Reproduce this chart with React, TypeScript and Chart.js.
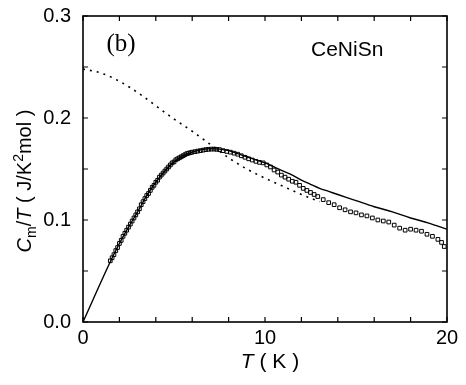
import React, { useEffect, useRef } from "react";
import { Chart, registerables } from "chart.js";

Chart.register(...registerables);

// Measured C_m/T data (open squares)
const pointT = [
  1.5, 1.6, 1.7, 1.8, 1.9, 2.0, 2.1, 2.2, 2.3, 2.4, 2.5, 2.6, 2.7, 2.8, 2.9, 3.0, 3.1, 3.2, 3.3, 3.4,
  3.5, 3.6, 3.7, 3.8, 3.9, 4.0, 4.1, 4.2, 4.3, 4.4, 4.5, 4.6, 4.7, 4.8, 4.9, 5.0, 5.1, 5.2, 5.3, 5.4,
  5.5, 5.6, 5.7, 5.8, 5.9, 6.0, 6.15, 6.3, 6.45, 6.6, 6.75, 6.9, 7.05, 7.2, 7.35, 7.5,
  7.7, 7.9, 8.1, 8.3, 8.5, 8.7, 8.9, 9.1, 9.3, 9.5, 9.7, 9.9, 10.1, 10.3, 10.5, 10.7, 10.9, 11.1, 11.3,
  11.5, 11.7, 11.9, 12.1, 12.3, 12.5, 12.7, 12.9, 13.2, 13.5, 13.8, 14.1, 14.4, 14.7, 15.0, 15.3, 15.6,
  15.9, 16.2, 16.5, 16.8, 17.1, 17.4, 17.7, 18.0, 18.3, 18.6, 18.9, 19.2, 19.5, 19.7, 19.85,
];
const pointC = [
  0.060, 0.063, 0.066, 0.070, 0.073, 0.077, 0.080, 0.084, 0.087, 0.090, 0.093, 0.096, 0.099, 0.102, 0.105, 0.108, 0.111, 0.115, 0.118, 0.121,
  0.124, 0.126, 0.129, 0.132, 0.134, 0.137, 0.139, 0.142, 0.144, 0.146, 0.148, 0.150, 0.152, 0.154, 0.156, 0.157, 0.159, 0.160, 0.161, 0.162,
  0.163, 0.164, 0.165, 0.1655, 0.166, 0.1665, 0.167, 0.1675, 0.168, 0.1685, 0.169, 0.1693, 0.1695, 0.1695, 0.1693, 0.169,
  0.168, 0.1672, 0.1665, 0.1655, 0.1645, 0.163, 0.1615, 0.160, 0.1588, 0.1575, 0.1565, 0.156, 0.154, 0.152, 0.149, 0.147, 0.144, 0.142, 0.140,
  0.138, 0.137, 0.134, 0.131, 0.129, 0.127, 0.125, 0.123, 0.120, 0.117, 0.115, 0.112, 0.110, 0.108, 0.107, 0.105, 0.104,
  0.102, 0.100, 0.099, 0.098, 0.095, 0.092, 0.090, 0.091, 0.090, 0.089, 0.086, 0.084, 0.081, 0.078, 0.074,
];

// Solid calculated curve
const solidT = [0, 1.5, 2.0, 2.5, 3.0, 3.5, 4.0, 4.5, 5.0, 5.5, 6.0, 6.5, 7.0, 7.5, 8.0, 8.5, 9.0, 9.5, 10.0, 10.5, 11.0, 11.5, 12.0, 12.5, 13.0, 13.5, 14.0, 15.0, 16.0, 17.0, 18.0, 19.0, 20.0];
const solidC = [0, 0.059, 0.077, 0.093, 0.108, 0.124, 0.137, 0.148, 0.157, 0.163, 0.1665, 0.169, 0.170, 0.1695, 0.168, 0.165, 0.162, 0.159, 0.156, 0.152, 0.148, 0.144, 0.139, 0.135, 0.131, 0.128, 0.125, 0.119, 0.113, 0.108, 0.102, 0.097, 0.091];

// Dotted curve
const dottedT = [0, 1, 2, 3, 4, 5, 6, 7, 8, 9, 10, 11, 12, 13];
const dottedC = [0.248, 0.244, 0.236, 0.225, 0.212, 0.199, 0.187, 0.174, 0.161, 0.150, 0.141, 0.133, 0.125, 0.118];

const xTickLabels = [0, 10, 20];
const yTickLabels = [0.0, 0.1, 0.2, 0.3];

const W = 466;
const H = 385;

const framePlugin = {
  id: "frame",
  afterDraw(chart: any) {
    const { ctx, chartArea, scales } = chart;
    const { left, right, top, bottom } = chartArea;
    const xs = scales.x;
    const ys = scales.y;
    ctx.save();
    ctx.strokeStyle = "#000";
    ctx.lineWidth = 1.6;
    ctx.strokeRect(left, top, right - left, bottom - top);
    ctx.lineWidth = 1.2;
    const tl = 5;
    for (let v = 0; v <= 20.001; v += 2) {
      const px = xs.getPixelForValue(v);
      ctx.beginPath();
      ctx.moveTo(px, bottom);
      ctx.lineTo(px, bottom - tl);
      ctx.moveTo(px, top);
      ctx.lineTo(px, top + tl);
      ctx.stroke();
    }
    for (let i = 0; i <= 6; i++) {
      const py = ys.getPixelForValue(i * 0.05);
      ctx.beginPath();
      ctx.moveTo(left, py);
      ctx.lineTo(left + tl, py);
      ctx.moveTo(right, py);
      ctx.lineTo(right - tl, py);
      ctx.stroke();
    }
    ctx.fillStyle = "#000";
    // panel label
    ctx.font = "25px 'Liberation Serif'";
    ctx.textAlign = "center";
    ctx.textBaseline = "middle";
    ctx.fillText("(b)", 121, 44);
    // compound name
    ctx.font = "21px 'Liberation Sans'";
    ctx.textAlign = "left";
    ctx.fillText("CeNiSn", 311, 50);

    const drawSegs = (segs: any[], cx: number, baseY: number) => {
      let total = 0;
      for (const s of segs) {
        ctx.font = s.font;
        total += ctx.measureText(s.t).width;
      }
      let x = cx - total / 2;
      ctx.textAlign = "left";
      ctx.textBaseline = "alphabetic";
      for (const s of segs) {
        ctx.font = s.font;
        ctx.fillText(s.t, x, baseY + (s.dy || 0));
        x += ctx.measureText(s.t).width;
      }
    };
    // x title: T ( K )
    drawSegs(
      [
        { t: "T", font: "italic 21px 'Liberation Sans'" },
        { t: " ( K )", font: "21px 'Liberation Sans'" },
      ],
      270,
      368
    );
    // y title
    ctx.translate(24, 181);
    ctx.rotate(-Math.PI / 2);
    drawSegs(
      [
        { t: "C", font: "italic 20px 'Liberation Sans'" },
        { t: "m", font: "14px 'Liberation Sans'", dy: 5 },
        { t: "/", font: "20px 'Liberation Sans'" },
        { t: "T", font: "italic 20px 'Liberation Sans'" },
        { t: " ( J/K", font: "20px 'Liberation Sans'" },
        { t: "2", font: "14px 'Liberation Sans'", dy: -8 },
        { t: "mol )", font: "20px 'Liberation Sans'" },
      ],
      0,
      7
    );
    ctx.restore();
  },
};

export default function App() {
  const ref = useRef<HTMLCanvasElement>(null);
  useEffect(() => {
    if (!ref.current) return;
    const toXY = (xs: number[], ys: number[]) => xs.map((x, i) => ({ x, y: ys[i] }));
    const chart = new Chart(ref.current, {
      type: "scatter",
      data: {
        datasets: [
          {
            label: "calc",
            data: toXY(solidT, solidC),
            showLine: true,
            borderColor: "#000",
            borderWidth: 1.4,
            pointRadius: 0,
            cubicInterpolationMode: "monotone",
            order: 2,
          },
          {
            label: "dotted",
            data: toXY(dottedT, dottedC),
            showLine: true,
            borderColor: "#000",
            borderWidth: 1.6,
            borderDash: [2, 5],
            pointRadius: 0,
            cubicInterpolationMode: "monotone",
            order: 3,
          },
          {
            label: "data",
            data: toXY(pointT, pointC),
            showLine: false,
            pointStyle: "rect",
            pointRadius: 2.6,
            borderColor: "#000",
            borderWidth: 1,
            backgroundColor: "rgba(255,255,255,0)",
            order: 1,
          },
        ],
      },
      options: {
        animation: false,
        responsive: false,
        devicePixelRatio: 1,
        layout: { padding: { top: 15, right: 19, left: 0, bottom: 0 } },
        plugins: { legend: { display: false }, tooltip: { enabled: false } },
        scales: {
          x: {
            type: "linear",
            min: 0,
            max: 20,
            grid: { display: false },
            border: { display: false },
            ticks: {
              stepSize: 2,
              autoSkip: false,
              maxRotation: 0,
              padding: -4,
              color: "#000",
              font: { family: "'Liberation Sans'", size: 20 },
              callback: (v: any) => (xTickLabels.includes(Number(v)) ? String(v) : ""),
            },
            afterFit: (s: any) => {
              s.height = 63;
            },
          },
          y: {
            type: "linear",
            min: 0,
            max: 0.3,
            grid: { display: false },
            border: { display: false },
            ticks: {
              stepSize: 0.05,
              autoSkip: false,
              padding: 4,
              color: "#000",
              font: { family: "'Liberation Sans'", size: 20 },
              callback: (v: any) => {
                const n = Number(v);
                const hit = yTickLabels.find((t) => Math.abs(t - n) < 1e-6);
                return hit !== undefined ? hit.toFixed(1) : "";
              },
            },
            afterFit: (s: any) => {
              s.width = 83;
            },
          },
        },
      },
      plugins: [framePlugin],
    } as any);
    return () => chart.destroy();
  }, []);
  return (
    <div style={{ position: "fixed", left: 0, top: 0, width: W, height: H, background: "#fff" }}>
      <canvas ref={ref} width={W} height={H} style={{ width: W, height: H }} />
    </div>
  );
}
